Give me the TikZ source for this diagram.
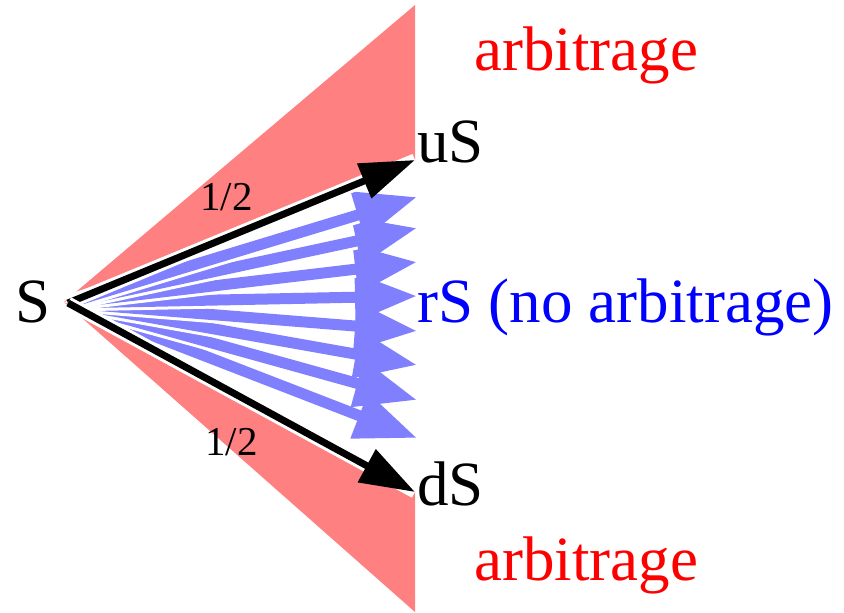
\documentclass[tikz,border=0pt]{standalone}
\usepackage{fontspec}
\setmainfont{Liberation Serif}
\usetikzlibrary{arrows.meta}
\definecolor{regionred}{HTML}{FF8080}
\definecolor{arrowblue}{HTML}{8080FF}
\begin{document}
\begin{tikzpicture}[x=1pt,y=-1pt,
  bigtext/.style={font=\fontsize{63}{70}\selectfont, inner sep=0pt, anchor=base west},
  halftext/.style={font=\fontsize{41}{46}\selectfont, inner sep=0pt, anchor=base west},
  bluearrow/.style={arrowblue, line width=11pt, -{Triangle[length=62pt,width=46pt]},
     preaction={draw=white, line width=17pt, -}},
  blackarrow/.style={black, line width=7pt, -{Triangle[length=55pt,width=36pt]},
     preaction={draw=white, line width=13pt, -}}]
\useasboundingbox (0,0) rectangle (844,613);
% red arbitrage regions
\fill[regionred] (64,302) -- (415,5) -- (415,162) -- cycle;
\fill[regionred] (64,302) -- (415,490) -- (415,612) -- cycle;
% points
\coordinate (S) at (68,303);
\coordinate (U) at (415,160);
\coordinate (D) at (415,492);
\foreach \i/\yy in {1/197,2/228,3/262,4/296,5/331,6/365,7/400,8/438}{
  \coordinate (B\i) at (417,\yy);
}
% blue arrows
\foreach \i in {8,7,6,5,4,3,2,1}{
  \draw[bluearrow] (S) -- (B\i);
}
% black arrows
\draw[blackarrow] (S) -- (U);
\draw[blackarrow] (S) -- (D);
% labels
\node[bigtext] (sl) at (15,322) {S};
\node[bigtext] (ul) at (417,162) {uS};
\node[bigtext] (dl) at (417,505) {dS};
\node[bigtext, text=blue] (rl) at (417,322) {rS (no arbitrage)};
\node[bigtext, text=red] (a1) at (474,70) {arbitrage};
\node[bigtext, text=red] (a2) at (474,580) {arbitrage};
\node[halftext] (h1) at (200,210) {1/2};
\node[halftext] (h2) at (205,455) {1/2};
\end{tikzpicture}
\end{document}
